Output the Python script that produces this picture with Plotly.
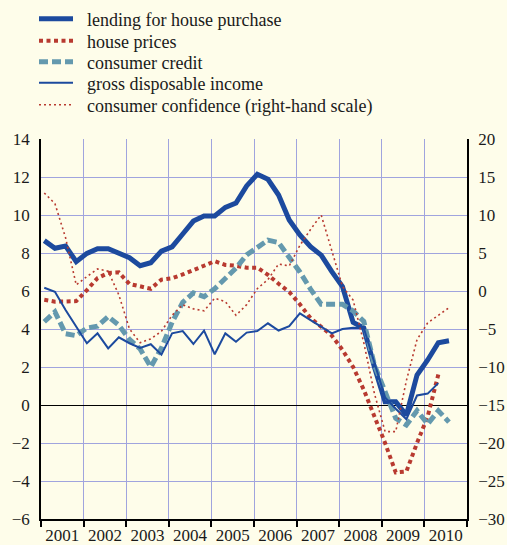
import numpy as np
import plotly.graph_objects as go

# Quarterly data, 2001Q1 onwards
start_year = 2001
lending = [8.65, 8.25, 8.37, 7.54, 7.98, 8.23, 8.23, 8.02, 7.75, 7.33, 7.49, 8.1, 8.32, 9.0,
           9.68, 9.95, 9.95, 10.4, 10.63, 11.53, 12.14, 11.88, 11.05, 9.74, 8.95, 8.33, 7.89,
           7.02, 6.23, 4.35, 4.05, 2.0, 0.17, 0.17, -0.53, 1.58, 2.37, 3.28, 3.38]
house_prices = [5.54, 5.44, 5.45, 5.47, 6.05, 6.68, 6.95, 6.98, 6.37, 6.27, 6.12, 6.6, 6.67,
                6.87, 7.08, 7.33, 7.57, 7.37, 7.33, 7.23, 7.23, 6.85, 6.38, 5.95, 5.3, 4.57,
                4.12, 3.65, 2.9, 2.0, 0.8, -0.6, -2.0, -3.55, -3.5, -2.0, -0.6, 1.6]
consumer_credit = [4.38, 4.9, 3.75, 3.65, 4.05, 4.15, 4.65, 4.2, 3.45, 2.95, 2.0, 3.0, 4.35,
                   5.4, 5.9, 5.7, 6.12, 6.7, 7.2, 7.9, 8.3, 8.68, 8.55, 7.8, 7.0, 6.1, 5.3,
                   5.3, 5.3, 4.95, 4.4, 2.1, 0.7, -0.7, -1.05, -0.3, -1.0, -0.3, -0.9]
gross_income = [6.17, 5.96, 5.0, 4.12, 3.25, 3.77, 2.98, 3.56, 3.25, 3.0, 3.2, 2.65, 3.77,
                 3.89, 3.21, 3.91, 2.67, 3.77, 3.33, 3.81, 3.89, 4.3, 3.92, 4.15, 4.82, 4.47,
                 4.12, 3.77, 4.0, 4.07, 4.05, 2.2, 0.4, -0.2, -0.75, 0.5, 0.6, 1.15]
confidence = [12.9, 11.5, 7.0, 0.8, 1.9, 2.9, 2.6, -0.5, -5.0, -6.8, -6.3, -5.3, -3.2, -1.8,
              -2.35, -2.6, -0.95, -1.4, -3.2, -1.8, 0.3, 1.5, 3.55, 3.3, 6.0, 8.1, 10.0, 5.3,
              0.6, -1.2, -6.8, -13.5, -18.5, -18.5, -11.8, -6.4, -4.2, -3.2, -2.2]
series_names = ["lending for house purchase", "house prices", "consumer credit",
                "gross disposable income", "consumer confidence (right-hand scale)"]
years = list(range(2001, 2011))
year_labels = [str(y) for y in years]


def qx(series):
    return start_year + 0.077 + 0.25 * np.arange(len(series))


BLUE = "#1C4A9E"
RED = "#B83A30"
TEAL = "#6499AE"
GRID = "#A0A4DE"
BG = "#FEFDEA"
FONT = "Liberation Serif"
PAD = "\u00a0\u00a0"

styles = [
    dict(color=BLUE, width=5),
    dict(color=RED, width=4, dash="4px,3.5px"),
    dict(color=TEAL, width=5, dash="9px,4px"),
    dict(color=BLUE, width=2),
    dict(color=RED, width=1.6, dash="2px,3px"),
]
data = [lending, house_prices, consumer_credit, gross_income, confidence]
legend_keys = ["legend", "legend2", "legend3", "legend4", "legend5"]

fig = go.Figure()
for i, (vals, name, st, lk) in enumerate(zip(data, series_names, styles, legend_keys)):
    fig.add_trace(go.Scatter(x=qx(vals), y=vals, name=PAD + name, mode="lines", line=st,
                             legend=lk, yaxis="y2" if i == 4 else "y"))

legend_rows_px = [19, 41, 62, 83, 105]
legends = {}
for lk, row in zip(legend_keys, legend_rows_px):
    legends[lk] = dict(x=(34 - 41) / 426, y=(519 - row) / 380, xanchor="left", yanchor="middle",
                       bgcolor="rgba(0,0,0,0)", font=dict(family=FONT, size=18, color="#1a1a1a"),
                       itemwidth=34)

fig.update_layout(
    width=507, height=545,
    margin=dict(l=41, r=40, t=139, b=26, autoexpand=False),
    paper_bgcolor=BG, plot_bgcolor=BG,
    font=dict(family=FONT, size=17, color="#1a1a1a"),
    showlegend=True,
    xaxis=dict(range=[2001, 2011], tickvals=[y + 0.5 for y in years], ticktext=year_labels,
               ticks="", showgrid=False, zeroline=False, showline=True, linecolor="black",
               linewidth=1.5, automargin=False, ticklabelstandoff=0,
               minor=dict(tickvals=list(range(2001, 2012)), showgrid=True, gridcolor=GRID,
                          gridwidth=1, ticks="outside", ticklen=6, tickcolor="black", tickwidth=1.5)),
    yaxis=dict(range=[-6, 14], dtick=2, showgrid=True, gridcolor=GRID, gridwidth=1,
               zeroline=True, zerolinecolor="black", zerolinewidth=1.2,
               showline=True, linecolor="black", linewidth=1.5, ticks="", automargin=False,
               ticklabelstandoff=6),
    yaxis2=dict(range=[-30, 20], dtick=5, overlaying="y", side="right", showgrid=False,
                zeroline=False, showline=True, linecolor="black", linewidth=1.5, ticks="",
                automargin=False, ticklabelstandoff=6),
    **legends,
)

post = ("document.body.style.margin='0';document.body.style.padding='0';"
        "document.body.style.background='" + BG + "';"
        "document.documentElement.style.background='" + BG + "';")
fig.write_html("out.html", post_script=post, config={"displayModeBar": False})
